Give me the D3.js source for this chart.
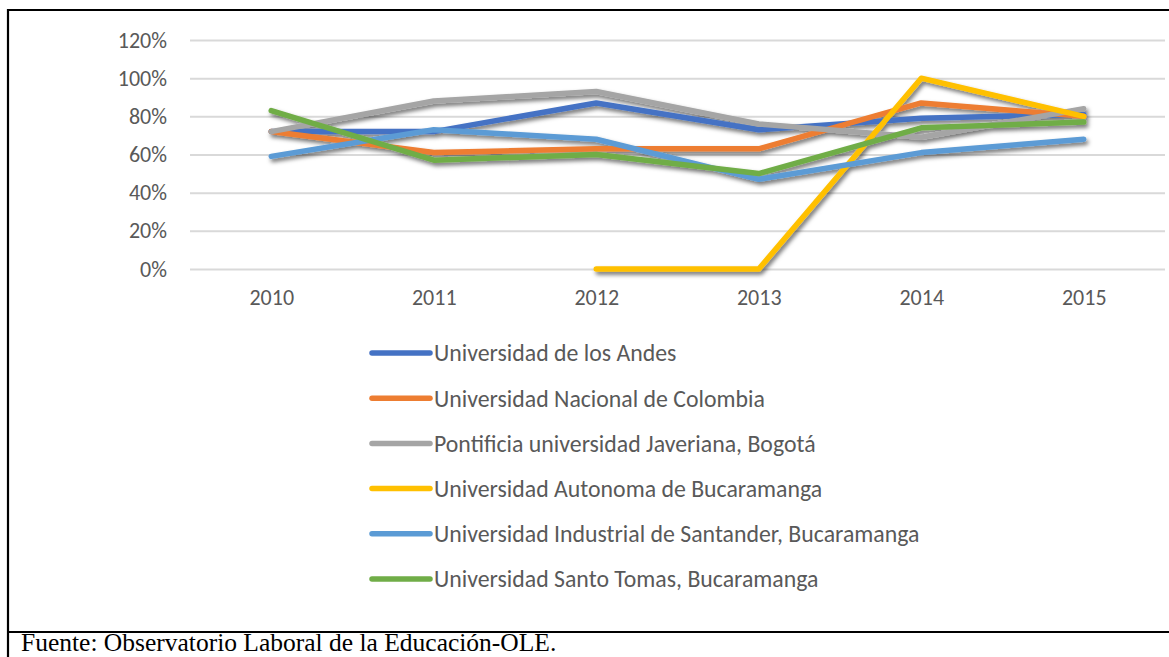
<!DOCTYPE html>
<html>
<head>
<meta charset="utf-8">
<script src="https://cdn.jsdelivr.net/npm/d3@7"></script>
<style>
  body { margin: 0; background: #fff; }
  svg { display: block; }
  .tick text { fill: #595959; }
</style>
</head>
<body>
<svg id="chart" width="1169" height="657"></svg>
<script>
// years on the category axis
const years = ['2010', '2011', '2012', '2013', '2014', '2015'];
const yTicks = [0, 0.2, 0.4, 0.6, 0.8, 1.0, 1.2];

// series values (null = no data)
const andes      = [0.72, 0.72, 0.87, 0.73, 0.79, 0.81];
const nacional   = [0.72, 0.61, 0.63, 0.63, 0.87, 0.80];
const javeriana  = [0.72, 0.88, 0.93, 0.76, 0.69, 0.84];
const autonoma   = [null, null, 0.00, 0.00, 1.00, 0.80];
const industrial = [0.59, 0.73, 0.68, 0.47, 0.61, 0.68];
const santoTomas = [0.83, 0.57, 0.60, 0.50, 0.74, 0.77];

const seriesNames = [
    'Universidad de los Andes',
    'Universidad Nacional de Colombia',
    'Pontificia universidad Javeriana, Bogotá',
    'Universidad Autonoma de Bucaramanga',
    'Universidad Industrial de Santander, Bucaramanga',
    'Universidad Santo Tomas, Bucaramanga'
];
const seriesValues = [andes, nacional, javeriana, autonoma, industrial, santoTomas];
const colors = ['#4472C4', '#ED7D31', '#A5A5A5', '#FFC000', '#5B9BD5', '#70AD47'];

const series = seriesNames.map(function(name, i) {
    return { name: name, color: colors[i], values: seriesValues[i] };
});

const svg = d3.select('#chart');
const font = 'Carlito, Lato, "Liberation Sans", sans-serif';

// drop shadow like the spreadsheet's line effect
const defs = svg.append('defs');
defs.append('filter')
    .attr('id', 'shadow')
    .attr('x', '-10%').attr('y', '-20%')
    .attr('width', '120%').attr('height', '140%')
  .append('feDropShadow')
    .attr('dx', 2).attr('dy', 3)
    .attr('stdDeviation', 2)
    .attr('flood-color', '#000')
    .attr('flood-opacity', 0.55);

// scales
let x = d3.scalePoint()
    .domain(years)
    .range([190, 1165])
    .padding(0.5);
let y = d3.scaleLinear()
    .domain([0, 1.2])
    .range([269, 40]);

// gridlines + y labels
let yAxis = d3.axisLeft(y)
    .tickValues(yTicks)
    .tickFormat(d3.format('.0%'))
    .tickSize(-975)
    .tickPadding(23);
svg.append('g')
    .attr('transform', 'translate(190,0)')
    .call(yAxis)
    .call(function(g) {
        g.select('.domain').remove();
        g.selectAll('.tick line').attr('stroke', '#D9D9D9').attr('stroke-width', 2);
        g.selectAll('.tick text')
            .attr('font-family', font)
            .attr('font-size', 22);
    });

// x labels
let xAxis = d3.axisBottom(x).tickSize(0).tickPadding(20);
svg.append('g')
    .attr('transform', 'translate(0,269)')
    .call(xAxis)
    .call(function(g) {
        g.select('.domain').remove();
        g.selectAll('.tick text')
            .attr('font-family', font)
            .attr('font-size', 22);
    });

// lines
let line = d3.line()
    .defined(function(d) { return d !== null; })
    .x(function(d, i) { return x(years[i]); })
    .y(function(d) { return y(d); });

svg.append('g')
    .attr('filter', 'url(#shadow)')
    .selectAll('path')
    .data(series)
    .join('path')
    .attr('d', function(d) { return line(d.values); })
    .attr('fill', 'none')
    .attr('stroke', function(d) { return d.color; })
    .attr('stroke-width', 5.5)
    .attr('stroke-linecap', 'round')
    .attr('stroke-linejoin', 'round');

// legend
let legend = svg.append('g')
    .selectAll('g')
    .data(series)
    .join('g')
    .attr('transform', function(d, i) { return 'translate(372,' + (353 + i * 45.2) + ')'; });

legend.append('line')
    .attr('x1', 0).attr('x2', 58)
    .attr('stroke', function(d) { return d.color; })
    .attr('stroke-width', 5.5)
    .attr('stroke-linecap', 'round');

legend.append('text')
    .attr('x', 62)
    .attr('dy', '0.35em')
    .attr('font-family', font)
    .attr('font-size', 23.8)
    .attr('fill', '#595959')
    .text(function(d) { return d.name; });

// frame of the figure
svg.append('path')
    .attr('d', 'M8,657 V10 H1169 M8,632 H1169')
    .attr('fill', 'none')
    .attr('stroke', '#000')
    .attr('stroke-width', 2.2);

// source note
svg.append('text')
    .attr('x', 21)
    .attr('y', 651)
    .attr('font-family', '"Liberation Serif", "Times New Roman", serif')
    .attr('font-size', 25.5)
    .attr('fill', '#000')
    .text('Fuente: Observatorio Laboral de la Educación-OLE.');
</script>
</body>
</html>
